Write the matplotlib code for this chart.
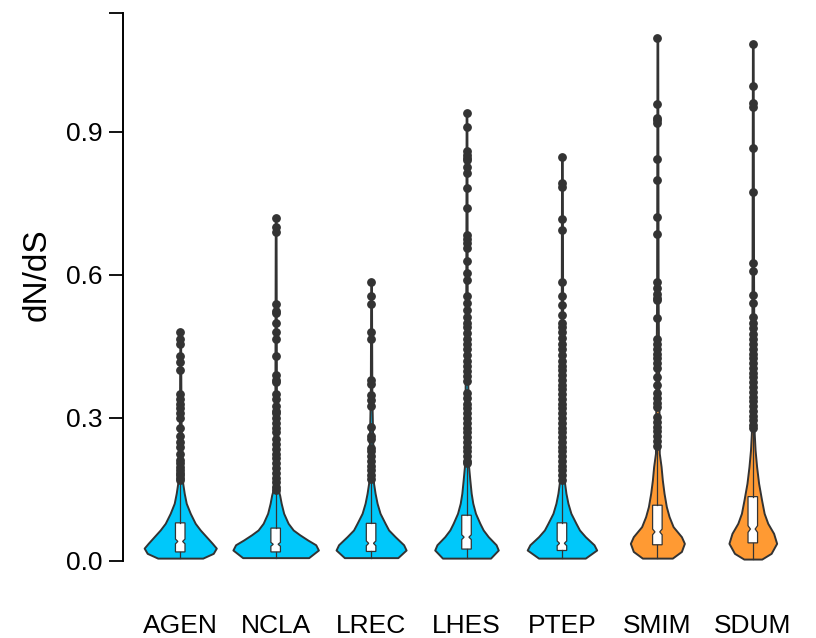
import numpy as np
import matplotlib
matplotlib.use('Agg')
import matplotlib.pyplot as plt

plt.rcParams['font.family'] = ['Liberation Sans', 'DejaVu Sans']

#-------------------------------------------------------------------------------
#DATA

species = ['AGEN', 'NCLA', 'LREC', 'LHES', 'PTEP', 'SMIM', 'SDUM']
group = ['blue', 'blue', 'blue', 'blue', 'blue', 'orange', 'orange']

#boxplot statistics (dN/dS)
q1 = [0.019, 0.019, 0.020, 0.025, 0.022, 0.034, 0.038]
med = [0.041, 0.035, 0.037, 0.050, 0.037, 0.061, 0.067]
q3 = [0.080, 0.069, 0.079, 0.096, 0.080, 0.117, 0.135]
notch = [0.005, 0.004, 0.005, 0.005, 0.005, 0.006, 0.007]
whislo = [0.006, 0.007, 0.007, 0.006, 0.006, 0.006, 0.004]
whishi = [0.165, 0.145, 0.165, 0.200, 0.165, 0.235, 0.272]

#outliers
out_agen = [0.48, 0.465, 0.455, 0.43, 0.418, 0.40, 0.35, 0.34, 0.33, 0.32, 0.31,
            0.30, 0.278, 0.262, 0.25, 0.24, 0.225, 0.212, 0.205, 0.198, 0.19,
            0.185, 0.18, 0.175, 0.17]
out_ncla = [0.72, 0.70, 0.69, 0.54, 0.525, 0.52, 0.50, 0.48, 0.465, 0.43, 0.39,
            0.38, 0.375, 0.35, 0.34, 0.325, 0.315, 0.31, 0.30, 0.29, 0.28, 0.27,
            0.255, 0.245, 0.235, 0.225, 0.215, 0.205, 0.195, 0.185, 0.175,
            0.165, 0.155, 0.148]
out_lrec = [0.585, 0.555, 0.54, 0.48, 0.465, 0.38, 0.372, 0.348, 0.338, 0.325,
            0.282, 0.262, 0.255, 0.238, 0.23, 0.22, 0.21, 0.20, 0.19, 0.18, 0.172]
out_lhes = [0.939, 0.911, 0.859, 0.852, 0.845, 0.841, 0.827, 0.813, 0.782,
            0.741, 0.684, 0.675, 0.667, 0.657, 0.629, 0.604, 0.589, 0.556,
            0.541, 0.527, 0.512, 0.50, 0.49, 0.478, 0.466, 0.455, 0.445, 0.432,
            0.42, 0.41, 0.398, 0.388, 0.378, 0.352, 0.342, 0.33, 0.32, 0.31,
            0.30, 0.29, 0.28, 0.27, 0.26, 0.25, 0.24, 0.23, 0.22, 0.21, 0.205]
out_ptep = [0.848, 0.792, 0.785, 0.717, 0.694, 0.586, 0.556, 0.537, 0.516, 0.50,
            0.49, 0.48, 0.468, 0.455, 0.445, 0.432, 0.42, 0.41, 0.40, 0.39,
            0.38, 0.37, 0.36, 0.35, 0.34, 0.33, 0.32, 0.31, 0.30, 0.29, 0.28,
            0.27, 0.26, 0.25, 0.24, 0.23, 0.22, 0.21, 0.20, 0.19, 0.18, 0.17]
out_smim = [1.097, 0.958, 0.93, 0.925, 0.918, 0.843, 0.80, 0.722, 0.685, 0.586,
            0.573, 0.56, 0.552, 0.548, 0.51, 0.465, 0.455, 0.445, 0.435, 0.425,
            0.415, 0.405, 0.386, 0.369, 0.352, 0.342, 0.332, 0.322, 0.302,
            0.292, 0.282, 0.272, 0.262, 0.252, 0.242]
out_sdum = [1.085, 0.997, 0.961, 0.952, 0.867, 0.773, 0.625, 0.609, 0.558, 0.541,
            0.512, 0.50, 0.488, 0.476, 0.465, 0.455, 0.445, 0.435, 0.425, 0.415,
            0.405, 0.395, 0.385, 0.375, 0.365, 0.355, 0.345, 0.335, 0.325,
            0.315, 0.305, 0.295, 0.285, 0.278]
outliers = [out_agen, out_ncla, out_lrec, out_lhes, out_ptep, out_smim, out_sdum]

#violin outlines: dN/dS level and half width (x units)
vy_agen = [0.006, 0.016, 0.027, 0.037, 0.051, 0.065, 0.079, 0.100, 0.121, 0.142, 0.166, 0.30, 0.48]
vw_agen = [0.236, 0.346, 0.378, 0.336, 0.273, 0.210, 0.157, 0.105, 0.063, 0.042, 0.024, 0.008, 0.004]
vy_ncla = [0.007, 0.023, 0.034, 0.044, 0.055, 0.065, 0.079, 0.100, 0.121, 0.138, 0.150, 0.35, 0.72]
vw_ncla = [0.346, 0.448, 0.420, 0.336, 0.252, 0.184, 0.131, 0.084, 0.058, 0.042, 0.026, 0.008, 0.004]
vy_lrec = [0.007, 0.023, 0.034, 0.051, 0.065, 0.079, 0.100, 0.121, 0.142, 0.163, 0.35, 0.585]
vw_lrec = [0.280, 0.367, 0.341, 0.252, 0.184, 0.147, 0.094, 0.063, 0.042, 0.026, 0.008, 0.004]
vy_lhes = [0.006, 0.023, 0.034, 0.051, 0.065, 0.079, 0.100, 0.121, 0.142, 0.170, 0.198, 0.50, 0.94]
vw_lhes = [0.252, 0.333, 0.310, 0.228, 0.175, 0.140, 0.094, 0.066, 0.049, 0.035, 0.022, 0.008, 0.004]
vy_ptep = [0.006, 0.023, 0.034, 0.051, 0.065, 0.079, 0.100, 0.121, 0.142, 0.166, 0.45, 0.85]
vw_ptep = [0.245, 0.364, 0.336, 0.245, 0.184, 0.147, 0.094, 0.063, 0.042, 0.026, 0.008, 0.004]
vy_smim = [0.006, 0.020, 0.037, 0.051, 0.072, 0.093, 0.114, 0.142, 0.170, 0.198, 0.226, 0.55, 1.097]
vw_smim = [0.157, 0.252, 0.283, 0.252, 0.165, 0.123, 0.094, 0.070, 0.052, 0.039, 0.020, 0.008, 0.004]
vy_sdum = [0.004, 0.016, 0.037, 0.058, 0.079, 0.100, 0.128, 0.163, 0.198, 0.233, 0.268, 0.60, 1.085]
vw_sdum = [0.094, 0.192, 0.250, 0.218, 0.157, 0.119, 0.092, 0.061, 0.040, 0.024, 0.015, 0.008, 0.004]
violin_y = [vy_agen, vy_ncla, vy_lrec, vy_lhes, vy_ptep, vy_smim, vy_sdum]
violin_w = [vw_agen, vw_ncla, vw_lrec, vw_lhes, vw_ptep, vw_smim, vw_sdum]

colors = {'blue': '#00C8FA', 'orange': '#FF9A33'}
dark = '#333333'

#-------------------------------------------------------------------------------
#MAIN

fig = plt.figure(figsize=(8.16, 6.38), dpi=100)
ax = fig.add_axes([0.1507, 0.046, 0.842, 0.934])

pos = np.arange(1, len(species) + 1)

for i, p in enumerate(pos):
    y = np.array(violin_y[i])
    w = np.array(violin_w[i])
    ax.fill_betweenx(y, p - w, p + w, facecolor=colors[group[i]],
                     edgecolor=dark, linewidth=1.4, zorder=1)

stats = []
for i in range(len(species)):
    stats.append(dict(med=med[i], q1=q1[i], q3=q3[i],
                      cilo=med[i] - notch[i], cihi=med[i] + notch[i],
                      whislo=whislo[i], whishi=whishi[i],
                      fliers=outliers[i], label=species[i]))

ax.bxp(stats, positions=pos, widths=0.1, shownotches=True, patch_artist=True,
       showcaps=False, manage_ticks=False,
       boxprops=dict(facecolor='white', edgecolor=dark, linewidth=0.9),
       whiskerprops=dict(color=dark, linewidth=0.9),
       medianprops=dict(linewidth=0),
       flierprops=dict(marker='o', markersize=5.3, markerfacecolor=dark,
                       markeredgecolor=dark, linestyle='none'),
       zorder=3)

ax.set_xlim(0.4, 7.6)
ax.set_ylim(-0.1, 1.15)

for s in ['top', 'right', 'bottom']:
    ax.spines[s].set_visible(False)
ax.spines['left'].set_bounds(0, 1.15)
ax.spines['left'].set_linewidth(1.4)

ax.set_yticks([0.0, 0.3, 0.6, 0.9, 1.15])
ax.set_yticklabels(['0.0', '0.3', '0.6', '0.9', ''])
ax.tick_params(axis='y', length=10, width=1.3, labelsize=19, pad=5)
ax.set_xticks(pos)
ax.set_xticklabels(species)
ax.tick_params(axis='x', length=0, labelsize=19, pad=4)

ax.set_ylabel('dN/dS', fontsize=24)
ax.yaxis.set_label_coords(-0.103, 0.56)

fig.savefig('out.png', dpi=100)
